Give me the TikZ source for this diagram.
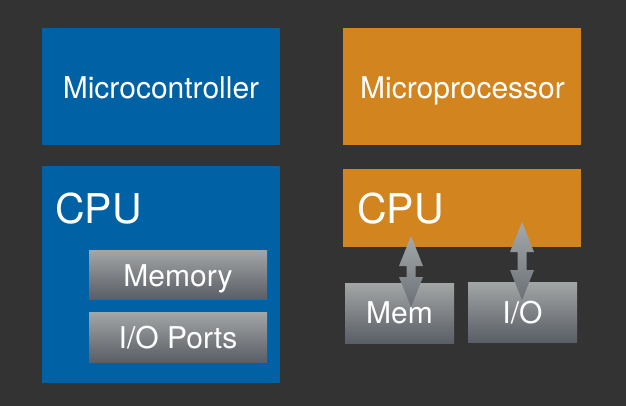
\documentclass[tikz,border=0pt]{standalone}
\usepackage{fontspec}
\setmainfont{TeX Gyre Heros}
\usetikzlibrary{calc}
\definecolor{bgc}{HTML}{333333}
\definecolor{mcblue}{HTML}{0062A4}
\definecolor{mporange}{HTML}{D2841F}
\definecolor{gtop}{HTML}{A2A6A6}
\definecolor{gbot}{HTML}{5A5E66}
\definecolor{atop}{HTML}{A4A9AB}
\definecolor{abot}{HTML}{6A7076}
\tikzset{
  bluebox/.style={rectangle, fill=mcblue, inner sep=0pt},
  orangebox/.style={rectangle, fill=mporange, inner sep=0pt},
  graybox/.style={rectangle, top color=gtop, bottom color=gbot, inner sep=0pt},
  lbl/.style={text=white, font=\fontsize{30}{34}\selectfont, inner sep=0pt, anchor=base},
  biglbl/.style={text=white, font=\fontsize{41}{46}\selectfont, inner sep=0pt, anchor=base west},
  arrowfill/.style={top color=atop, bottom color=abot, draw=none}
}
\newcommand{\twowayarrow}[2]{%
  \shade[arrowfill] (#1) -- ($(#1)+(12,30)$) -- ($(#1)+(4.5,30)$) -- ($(#2)+(4.5,-30)$) -- ($(#2)+(12,-30)$) -- (#2) -- ($(#2)+(-12,-30)$) -- ($(#2)+(-4.5,-30)$) -- ($(#1)+(-4.5,30)$) -- ($(#1)+(-12,30)$) -- cycle;}
\begin{document}
\begin{tikzpicture}[x=1pt,y=-1pt]
\useasboundingbox (0,0) rectangle (626,406);
\fill[bgc] (0,0) rectangle (626,406);
% top boxes
\node[bluebox, minimum width=238pt, minimum height=117pt] (mc) at (161,86.5) {};
\node[lbl] (mctext) at (161,99) {Microcontroller};
\node[orangebox, minimum width=238pt, minimum height=117pt] (mp) at (462,86.5) {};
\node[lbl] (mptext) at (462.5,99) {Microprocessor};
% left CPU
\node[bluebox, minimum width=238pt, minimum height=217pt] (cpuL) at (161,274.5) {};
\node[biglbl] (cpuLtext) at (55,223) {CPU};
\node[graybox, minimum width=178pt, minimum height=49pt] (mem) at (178,274.5) {};
\node[lbl] (memtext) at (178,286) {Memory};
\node[graybox, minimum width=178pt, minimum height=50pt] (io) at (178,337) {};
\node[lbl] (iotext) at (178,348) {I/O Ports};
% right CPU
\node[orangebox, minimum width=238pt, minimum height=78pt] (cpuR) at (462,208) {};
\node[biglbl] (cpuRtext) at (357,223) {CPU};
\node[graybox, minimum width=109pt, minimum height=60pt] (memR) at (399.5,313) {};
\node[graybox, minimum width=109pt, minimum height=60pt] (ioR) at (522.5,312) {};
\coordinate (memTop) at (411,236);
\coordinate (memBot) at (411,307);
\coordinate (ioTop) at (522,222);
\coordinate (ioBot) at (522,300);
\twowayarrow{memTop}{memBot}
\twowayarrow{ioTop}{ioBot}
\node[lbl] (memRtext) at (399.5,323) {Mem};
\node[lbl] (ioRtext) at (522.5,323) {I/O};
\end{tikzpicture}
\end{document}
